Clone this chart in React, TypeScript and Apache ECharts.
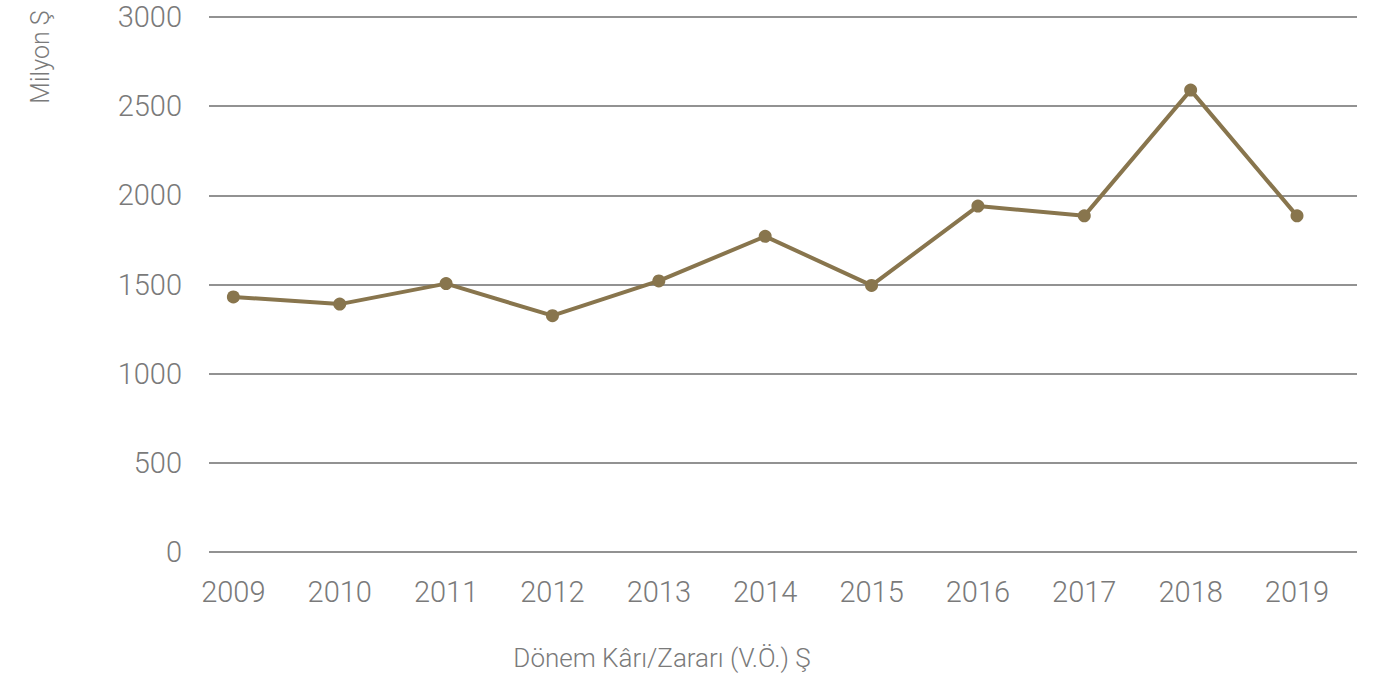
import React, { useEffect, useRef } from "react";
import * as echarts from "echarts";

const years = [2009, 2010, 2011, 2012, 2013, 2014, 2015, 2016, 2017, 2018, 2019];
const profit = [1430, 1390, 1505, 1325, 1520, 1770, 1495, 1940, 1885, 2590, 1885];
const yTicks = [0, 500, 1000, 1500, 2000, 2500, 3000];
const xTitle = "Dönem Kârı/Zararı (V.Ö.) Ş";
const yTitle = "Milyon Ş";

const FONT = "Roboto";
const TEXT = "#7a7a7a";
const LINE = "#88754d";

export default function App() {
  const ref = useRef<HTMLDivElement>(null);
  useEffect(() => {
    document.body.style.margin = "0";
    const chart = echarts.init(ref.current!, null, { renderer: "svg" });
    chart.setOption({
      animation: false,
      grid: { left: 209, right: 23, top: 17, bottom: 123 },
      xAxis: {
        type: "value",
        min: 2008.771,
        max: 2019.564,
        axisLine: { show: false },
        axisTick: { show: false },
        splitLine: { show: false },
        axisLabel: {
          customValues: years,
          formatter: (v: number) => String(Math.round(v)),
          color: TEXT,
          fontFamily: FONT,
          fontWeight: 300,
          fontSize: 29,
          margin: 25,
        },
      },
      yAxis: {
        type: "value",
        min: yTicks[0],
        max: yTicks[yTicks.length - 1],
        interval: 500,
        axisLine: { show: false },
        axisTick: { show: false },
        axisLabel: {
          formatter: (v: number) => String(v),
          color: TEXT,
          fontFamily: FONT,
          fontWeight: 300,
          fontSize: 29,
          margin: 27,
        },
        splitLine: { lineStyle: { color: "#6e6e6e", width: 1.5 } },
      },
      graphic: [
        {
          type: "text",
          x: 662,
          y: 658,
          style: {
            text: xTitle,
            fill: TEXT,
            font: `300 26px ${FONT}`,
            align: "center",
            verticalAlign: "middle",
          },
        },
        {
          type: "text",
          x: 40,
          y: 57,
          rotation: Math.PI / 2,
          style: {
            text: yTitle,
            fill: TEXT,
            font: `300 25px ${FONT}`,
            align: "center",
            verticalAlign: "middle",
          },
        },
      ],
      series: [
        {
          type: "line",
          data: years.map((y, i) => [y, profit[i]]),
          symbol: "circle",
          symbolSize: 13,
          lineStyle: { color: LINE, width: 4 },
          itemStyle: { color: LINE },
        },
      ],
    });
    return () => chart.dispose();
  }, []);
  return <div ref={ref} style={{ width: 1380, height: 675 }} />;
}
